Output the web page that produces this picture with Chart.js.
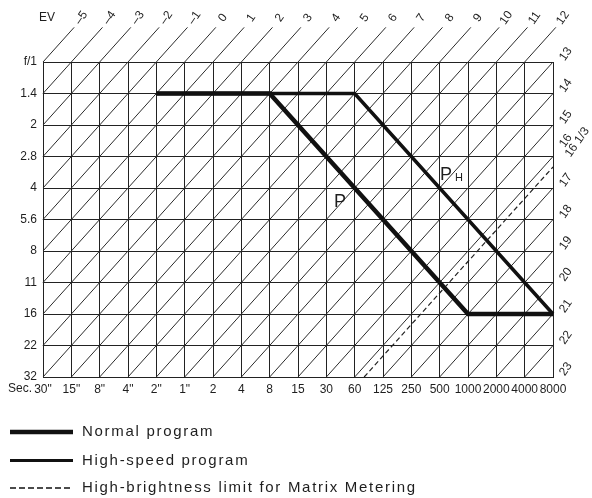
<!DOCTYPE html>
<html><head><meta charset="utf-8">
<script src="https://cdn.jsdelivr.net/npm/chart.js@4"></script>
<style>html,body{margin:0;padding:0;background:#fff;} canvas{display:block}</style>
</head><body>
<canvas id="c" width="592" height="498"></canvas>
<script>
// ---- data ----
const shutterLabels = ['30"','15"','8"','4"','2"','1"','2','4','8','15','30','60','125','250','500','1000','2000','4000','8000'];
const apertureLabels = ['f/1','1.4','2','2.8','4','5.6','8','11','16','22','32'];
const evTopLabels = [-5,-4,-3,-2,-1,0,1,2,3,4,5,6,7,8,9,10,11,12];
const evRightLabels = [13,14,15,16,17,18,19,20,21,22,23];
const normalShutter = ['2"','8','1000','8000'];
const normalAperture = ['1.4','1.4','16','16'];
const highShutter = ['2"','60','8000'];
const highAperture = ['1.4','1.4','16'];
const matrixLimitEV = 16 + 1/3;
const matrixLimitText = '16 1/3';
const legendLabels = ['Normal program','High-speed program','High-brightness limit for Matrix Metering'];
const axisTitleEV = 'EV';
const axisTitleSec = 'Sec.';

// ---- geometry helpers ----
const C = shutterLabels.length - 1;
const R = apertureLabels.length - 1;
const evAtOrigin = evTopLabels[0];
const TOP_EXT = 1.1;
function evSum(ev){ return ev - evAtOrigin; }
function evSegment(ev){
  const s = evSum(ev);
  const pts = [];
  pts.push(s <= R ? {x:0,y:s} : {x:s-R,y:R});
  pts.push(s <= C ? {x:s,y:0} : {x:C,y:s-C});
  if (s < C) pts.push({x:s+TOP_EXT,y:-TOP_EXT});
  return pts;
}
function programPoints(sh, ap){
  return sh.map((v,i)=>({x:shutterLabels.indexOf(v), y:apertureLabels.indexOf(ap[i])}));
}

const INK = '#1e1e1e';
const FONT = '"Liberation Sans", Arial, sans-serif';

const datasets = [];
datasets.push({label:legendLabels[0], data:programPoints(normalShutter,normalAperture), borderColor:'#111', borderWidth:4.5, order:0});
datasets.push({label:legendLabels[1], data:programPoints(highShutter,highAperture), borderColor:'#111', borderWidth:3.5, order:1});
(function(){
  const s = evSum(matrixLimitEV);
  const pts = [s <= R ? {x:0,y:s} : {x:s-R,y:R}, s <= C ? {x:s,y:0} : {x:C,y:s-C}, {x:C+0.45,y:s-C-0.45}];
  datasets.push({label:legendLabels[2], data:pts, borderColor:'#222', borderWidth:1.2, borderDash:[5,3], order:2});
})();
evTopLabels.concat(evRightLabels).forEach(ev=>{
  datasets.push({label:'EV '+ev, data:evSegment(ev), borderColor:'#2a2a2a', borderWidth:1, order:3});
});
datasets.forEach(d=>{ d.showLine=true; d.pointRadius=0; d.clip=false; d.tension=0; d.fill=false; d.borderCapStyle='butt'; d.borderJoinStyle='miter'; });

const labelPlugin = {
  id:'labels',
  afterDraw(chart){
    const ctx = chart.ctx, xs = chart.scales.x, ys = chart.scales.y;
    const px = v=>xs.getPixelForValue(v), py = v=>ys.getPixelForValue(v);
    ctx.save();
    ctx.fillStyle = INK;
    ctx.font = '12px '+FONT;
    ctx.textAlign='center'; ctx.textBaseline='middle';
    const rot = -55*Math.PI/180;
    function rtext(t,x,y,align){
      ctx.save(); ctx.translate(x,y); ctx.rotate(rot); ctx.textAlign=align||'center'; ctx.fillText(t,0,0); ctx.restore();
    }
    evTopLabels.forEach(ev=>{
      const s = evSum(ev);
      rtext(String(ev).replace('-','\u2013'), px(s+1.35), py(-1.4));
    });
    evRightLabels.forEach(ev=>{
      const s = evSum(ev);
      let r = s - C - 0.25;
      if (ev === 16) r -= 0.25;
      rtext(String(ev), px(C+0.45), py(r));
    });
    // matrix limit label
    const sm = evSum(matrixLimitEV);
    rtext(matrixLimitText, px(C+0.52), py(sm-C-0.35), 'left');
    // EV title and Sec.
    ctx.fillText(axisTitleEV, 47, 18);
    ctx.textAlign='right';
    ctx.fillText(axisTitleSec, 32, 389);
    // program marks
    ctx.font = '18px '+FONT;
    ctx.textAlign='center';
    ctx.fillText('P', px(10.48), py(4.45));
    ctx.fillText('P', px(14.22), py(3.58));
    ctx.font = '11px '+FONT;
    ctx.fillText('H', px(14.68), py(3.68));
    // legend
    const ly = [432, 460.5, 488];
    const ws = [4.5, 3, 1.3];
    ctx.strokeStyle = '#111';
    ly.forEach((y,i)=>{
      ctx.beginPath();
      ctx.lineWidth = ws[i];
      ctx.setLineDash(i===2 ? [6,3] : []);
      ctx.moveTo(10,y); ctx.lineTo(73,y); ctx.stroke();
    });
    ctx.setLineDash([]);
    ctx.font = '15px '+FONT;
    ctx.textAlign='left';
    try { ctx.letterSpacing = '1.7px'; } catch(e){}
    ly.forEach((y,i)=>{ ctx.fillText(legendLabels[i], 82, y); });
    ctx.restore();
  }
};

new Chart(document.getElementById('c'), {
  type:'scatter',
  data:{datasets},
  plugins:[labelPlugin],
  options:{
    responsive:false, animation:false, events:[],
    layout:{padding:{top:62,right:39,left:0,bottom:0}},
    plugins:{legend:{display:false}, tooltip:{enabled:false}},
    scales:{
      x:{type:'linear', min:0, max:C, position:'bottom',
        afterFit(s){ s.height = 121; },
        grid:{color:'#222', lineWidth:1, drawTicks:false},
        border:{color:'#222', width:1},
        ticks:{stepSize:1, autoSkip:false, maxTicksLimit:100, maxRotation:0, padding:5, color:INK, font:{size:12, family:FONT},
          callback:v=>shutterLabels[v] ?? ''}
      },
      y:{type:'linear', min:0, max:R, reverse:true,
        afterFit(s){ s.width = 43; },
        grid:{color:'#222', lineWidth:1, drawTicks:false},
        border:{color:'#222', width:1},
        ticks:{stepSize:1, autoSkip:false, maxTicksLimit:100, padding:6, color:INK, font:{size:12, family:FONT},
          callback:v=>apertureLabels[v] ?? ''}
      }
    }
  }
});
</script>
</body></html>
